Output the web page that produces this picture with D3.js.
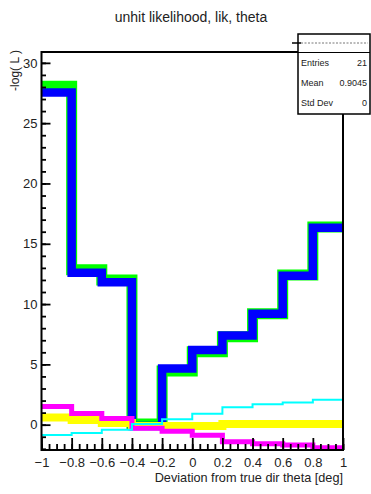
<!DOCTYPE html>
<html>
<head>
<meta charset="utf-8">
<script src="https://cdn.jsdelivr.net/npm/d3@7"></script>
<style>
  body { margin: 0; background: #fff; }
  svg { display: block; font-family: "Liberation Sans", Arial, sans-serif; }
</style>
</head>
<body>
<div id="chart"></div>
<script>
// bin edges of the histograms (deg)
var binEdges = [-1, -0.8, -0.6, -0.4, -0.2, 0, 0.2, 0.4, 0.6, 0.8, 1];
var xTickValues = [-1, -0.8, -0.6, -0.4, -0.2, 0, 0.2, 0.4, 0.6, 0.8, 1];
var yTickValues = [0, 5, 10, 15, 20, 25, 30];

// -log(L) per bin
var greenVals   = [28.05, 12.85, 12.0, 0.05, 4.45, 6.05, 7.3, 9.2, 12.4, 16.4];
var blueVals    = [27.55, 12.6, 11.8, -0.1, 4.65, 6.2, 7.4, 9.2, 12.35, 16.33];
var magentaVals = [1.5, 0.93, 0.52, -0.3, -0.55, -0.88, -1.42, -1.58, -1.68, -1.92];
var yellowVals  = [0.6, 0.38, 0.14, -0.12, -0.12, -0.12, 0.06, 0.06, 0.06, 0.06];
var cyanVals    = [-0.86, -0.7, -0.42, 0.05, 0.46, 0.9, 1.45, 1.7, 1.84, 2.07];

var statNames  = ["Entries", "Mean", "Std Dev"];
var statValues = ["21", "0.9045", "0"];

var width = 371, height = 494;
var fL = 41.5, fR = 343, fT = 52, fB = 450;

var svg = d3.select("#chart").append("svg")
  .attr("width", width)
  .attr("height", height);

var x = d3.scaleLinear().domain([-1, 1]).range([fL, fR]);
var y = d3.scaleLinear().domain([-2.1, 30.9]).range([fB, fT]);

// title
svg.append("text")
  .attr("x", 191).attr("y", 22)
  .attr("text-anchor", "middle")
  .style("font-size", "14px").style("fill", "#222")
  .text("unhit likelihood, lik, theta");

// histograms
var line = d3.line()
  .x(function (d) { return x(d[0]); })
  .y(function (d) { return y(d[1]); })
  .curve(d3.curveStepAfter);

function stepPoints(vals) {
  var pts = vals.map(function (v, i) { return [binEdges[i], v]; });
  pts.push([binEdges[binEdges.length - 1], vals[vals.length - 1]]);
  return pts;
}

var series = [
  {vals: greenVals, color: "#00ff00", w: 11},
  {vals: blueVals, color: "#0000ff", w: 8.5},
  {vals: yellowVals, color: "#ffff00", w: 8},
  {vals: magentaVals, color: "#ff00ff", w: 5},
  {vals: cyanVals, color: "#00ffff", w: 2}
];

var plot = svg.append("g");
plot.append("clipPath").attr("id", "clip")
  .append("rect").attr("x", fL).attr("y", fT)
  .attr("width", fR - fL).attr("height", fB - fT);

plot.selectAll(".hist")
  .data(series)
  .enter().append("path")
  .attr("class", "hist")
  .attr("clip-path", "url(#clip)")
  .attr("d", function (d) { return line(stepPoints(d.vals)); })
  .style("fill", "none")
  .style("stroke", function (d) { return d.color; })
  .style("stroke-width", function (d) { return d.w; })
  .style("stroke-linejoin", "miter");

// axes
var fmtX = function (d) { return (d < 0 ? "\u2212" : "") + Math.abs(d); };

svg.append("g")
  .attr("transform", "translate(0," + fB + ")")
  .call(d3.axisBottom(x).tickValues(xTickValues).tickSize(-12).tickSizeOuter(0)
    .tickPadding(8).tickFormat(fmtX));
svg.append("g")
  .attr("transform", "translate(0," + fB + ")")
  .call(d3.axisBottom(x).tickValues(d3.range(-1, 1.001, 0.05)).tickSize(-6)
    .tickSizeOuter(0).tickFormat(""));

svg.append("g")
  .attr("transform", "translate(" + fL + ",0)")
  .call(d3.axisLeft(y).tickValues(yTickValues).tickSize(-9).tickSizeOuter(0)
    .tickPadding(4));
svg.append("g")
  .attr("transform", "translate(" + fL + ",0)")
  .call(d3.axisLeft(y).tickValues(d3.range(-2, 31, 1)).tickSize(-4.5)
    .tickSizeOuter(0).tickFormat(""));

svg.selectAll(".domain").remove();
svg.selectAll(".tick line").style("stroke", "#000").style("stroke-width", 1.8);
svg.selectAll(".tick text")
  .style("font-size", "13px").style("fill", "#222")
  .style("font-family", "Liberation Sans, Arial, sans-serif");

// frame
svg.append("rect")
  .attr("x", fL).attr("y", fT)
  .attr("width", fR - fL).attr("height", fB - fT)
  .style("fill", "none").style("stroke", "#000").style("stroke-width", 2);

// axis titles
svg.append("text")
  .attr("x", fR).attr("y", 482)
  .attr("text-anchor", "end")
  .style("font-size", "12.7px").style("fill", "#222")
  .text("Deviation from true dir theta [deg]");

svg.append("text")
  .attr("transform", "translate(19," + 50 + ") rotate(-90)")
  .attr("text-anchor", "end")
  .style("font-size", "12px").style("fill", "#222")
  .text("-log( L )");

// stats box
var bx = 298, by = 34, bw = 72, bh = 80;
var stats = svg.append("g");
stats.append("rect")
  .attr("x", bx).attr("y", by).attr("width", bw).attr("height", bh)
  .style("fill", "#fff").style("stroke", "#000").style("stroke-width", 1.5);
stats.append("line")
  .attr("x1", bx).attr("x2", bx + bw).attr("y1", 52.5).attr("y2", 52.5)
  .style("stroke", "#000").style("stroke-width", 1.2);
stats.append("line")
  .attr("x1", 292).attr("x2", 301).attr("y1", 43).attr("y2", 43)
  .style("stroke", "#000").style("stroke-width", 1.5);
stats.append("line")
  .attr("x1", 301).attr("x2", 368).attr("y1", 43).attr("y2", 43)
  .style("stroke", "#777").style("stroke-width", 1).style("stroke-dasharray", "2,1.5");

var rowY = d3.scalePoint().domain(statNames).range([66, 105.5]);
stats.selectAll(".sname").data(statNames).enter().append("text")
  .attr("x", 301).attr("y", function (d) { return rowY(d); })
  .style("font-size", "9px").style("fill", "#222")
  .text(function (d) { return d; });
stats.selectAll(".sval").data(statValues).enter().append("text")
  .attr("x", 367).attr("y", function (d, i) { return rowY(statNames[i]); })
  .attr("text-anchor", "end")
  .style("font-size", "9px").style("fill", "#222")
  .text(function (d) { return d; });
</script>
</body>
</html>
